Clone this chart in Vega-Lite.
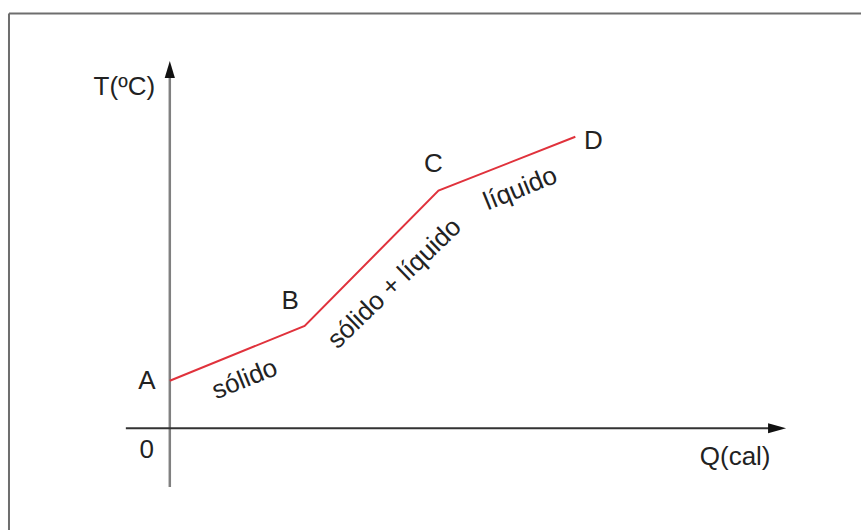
{
  "$schema": "https://vega.github.io/schema/vega-lite/v6.json",
  "width": 862,
  "height": 531,
  "autosize": {"type": "fit", "contains": "padding"},
  "padding": 0,
  "background": "white",
  "config": {"view": {"stroke": null}},
  "datasets": {
    "segs": [
      {"part": "frame", "q1": -16.1, "t1": 41.55, "q2": -16.1, "t2": -10.2},
      {"part": "frame", "q1": -16.1, "t1": 41.55, "q2": 69.2, "t2": 41.55},
      {"part": "yaxis", "q1": 0, "t1": -5.9, "q2": 0, "t2": 36.0},
      {"part": "xaxis", "q1": -4.4, "t1": 0, "q2": 61.0, "t2": 0}
    ],
    "curve": [
      {"point": "A", "Q": 0, "T": 4.75},
      {"point": "B", "Q": 13.5, "T": 10.25},
      {"point": "C", "Q": 26.9, "T": 23.8},
      {"point": "D", "Q": 40.6, "T": 29.2}
    ],
    "arrows": [
      {"axis": "y", "Q": 0, "T": 36.8},
      {"axis": "x", "Q": 61.7, "T": 0}
    ],
    "labels": [
      {"kind": "plain", "text": "T(ºC)", "Q": -4.55, "T": 34.2},
      {"kind": "plain", "text": "A", "Q": -2.3, "T": 4.7},
      {"kind": "plain", "text": "0", "Q": -2.3, "T": -2.2},
      {"kind": "plain", "text": "B", "Q": 12.05, "T": 12.75},
      {"kind": "plain", "text": "C", "Q": 26.4, "T": 26.5},
      {"kind": "plain", "text": "D", "Q": 42.4, "T": 28.75},
      {"kind": "plain", "text": "Q(cal)", "Q": 56.6, "T": -2.9},
      {"kind": "gentle", "text": "sólido", "Q": 7.5, "T": 4.9},
      {"kind": "gentle", "text": "líquido", "Q": 35.1, "T": 24.0},
      {"kind": "steep", "text": "sólido + líquido", "Q": 22.5, "T": 14.5}
    ]
  },
  "layer": [
    {
      "data": {"name": "segs"},
      "transform": [{"filter": "datum.part === 'frame'"}],
      "mark": {"type": "rule", "color": "#6e6e6e", "strokeWidth": 2},
      "encoding": {
        "x": {"field": "q1", "type": "quantitative", "scale": {"domain": [-17, 69.2], "nice": false, "zero": false}, "axis": null},
        "y": {"field": "t1", "type": "quantitative", "scale": {"domain": [-10.2, 42.9], "nice": false, "zero": false}, "axis": null},
        "x2": {"field": "q2"},
        "y2": {"field": "t2"}
      }
    },
    {
      "data": {"name": "segs"},
      "transform": [{"filter": "datum.part === 'yaxis'"}],
      "mark": {"type": "rule", "color": "#808080", "strokeWidth": 2.5},
      "encoding": {
        "x": {"field": "q1", "type": "quantitative", "scale": {"domain": [-17, 69.2], "nice": false, "zero": false}, "axis": null},
        "y": {"field": "t1", "type": "quantitative", "scale": {"domain": [-10.2, 42.9], "nice": false, "zero": false}, "axis": null},
        "x2": {"field": "q2"},
        "y2": {"field": "t2"}
      }
    },
    {
      "data": {"name": "segs"},
      "transform": [{"filter": "datum.part === 'xaxis'"}],
      "mark": {"type": "rule", "color": "#333333", "strokeWidth": 2},
      "encoding": {
        "x": {"field": "q1", "type": "quantitative", "scale": {"domain": [-17, 69.2], "nice": false, "zero": false}, "axis": null},
        "y": {"field": "t1", "type": "quantitative", "scale": {"domain": [-10.2, 42.9], "nice": false, "zero": false}, "axis": null},
        "x2": {"field": "q2"},
        "y2": {"field": "t2"}
      }
    },
    {
      "data": {"name": "arrows"},
      "transform": [{"filter": "datum.axis === 'y'"}],
      "mark": {"type": "point", "shape": "M0,0L-0.6,2L0.6,2Z", "size": 289, "filled": true, "color": "#111111", "opacity": 1},
      "encoding": {
        "x": {"field": "Q", "type": "quantitative", "scale": {"domain": [-17, 69.2], "nice": false, "zero": false}, "axis": null},
        "y": {"field": "T", "type": "quantitative", "scale": {"domain": [-10.2, 42.9], "nice": false, "zero": false}, "axis": null}
      }
    },
    {
      "data": {"name": "arrows"},
      "transform": [{"filter": "datum.axis === 'x'"}],
      "mark": {"type": "point", "shape": "M0,0L-2,-0.55L-2,0.55Z", "size": 324, "filled": true, "color": "#111111", "opacity": 1},
      "encoding": {
        "x": {"field": "Q", "type": "quantitative", "scale": {"domain": [-17, 69.2], "nice": false, "zero": false}, "axis": null},
        "y": {"field": "T", "type": "quantitative", "scale": {"domain": [-10.2, 42.9], "nice": false, "zero": false}, "axis": null}
      }
    },
    {
      "data": {"name": "curve"},
      "mark": {"type": "line", "color": "#e0323c", "strokeWidth": 2},
      "encoding": {
        "x": {"field": "Q", "type": "quantitative", "scale": {"domain": [-17, 69.2], "nice": false, "zero": false}, "axis": null},
        "y": {"field": "T", "type": "quantitative", "scale": {"domain": [-10.2, 42.9], "nice": false, "zero": false}, "axis": null},
        "order": {"field": "Q", "type": "quantitative"}
      }
    },
    {
      "data": {"name": "labels"},
      "transform": [{"filter": "datum.kind === 'plain'"}],
      "mark": {"type": "text", "font": "Liberation Sans", "fontSize": 26, "color": "#222222", "align": "center", "baseline": "middle"},
      "encoding": {
        "x": {"field": "Q", "type": "quantitative", "scale": {"domain": [-17, 69.2], "nice": false, "zero": false}, "axis": null},
        "y": {"field": "T", "type": "quantitative", "scale": {"domain": [-10.2, 42.9], "nice": false, "zero": false}, "axis": null},
        "text": {"field": "text"}
      }
    },
    {
      "data": {"name": "labels"},
      "transform": [{"filter": "datum.kind === 'gentle'"}],
      "mark": {"type": "text", "font": "Liberation Sans", "fontSize": 26, "color": "#222222", "align": "center", "baseline": "middle", "angle": -22},
      "encoding": {
        "x": {"field": "Q", "type": "quantitative", "scale": {"domain": [-17, 69.2], "nice": false, "zero": false}, "axis": null},
        "y": {"field": "T", "type": "quantitative", "scale": {"domain": [-10.2, 42.9], "nice": false, "zero": false}, "axis": null},
        "text": {"field": "text"}
      }
    },
    {
      "data": {"name": "labels"},
      "transform": [{"filter": "datum.kind === 'steep'"}],
      "mark": {"type": "text", "font": "Liberation Sans", "fontSize": 26, "color": "#222222", "align": "center", "baseline": "middle", "angle": -44},
      "encoding": {
        "x": {"field": "Q", "type": "quantitative", "scale": {"domain": [-17, 69.2], "nice": false, "zero": false}, "axis": null},
        "y": {"field": "T", "type": "quantitative", "scale": {"domain": [-10.2, 42.9], "nice": false, "zero": false}, "axis": null},
        "text": {"field": "text"}
      }
    }
  ]
}
